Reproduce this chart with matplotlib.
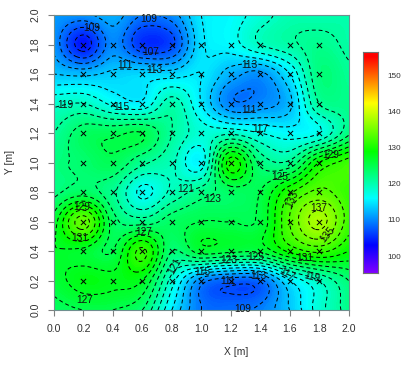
import numpy as np
import matplotlib
matplotlib.use('Agg')
import matplotlib.pyplot as plt
from matplotlib.colors import LinearSegmentedColormap

plt.rcParams['font.family'] = ['Liberation Sans', 'DejaVu Sans']

x_vals = [0.0, 0.2, 0.4, 0.6, 0.8, 1.0, 1.2, 1.4, 1.6, 1.8, 2.0]
y_vals = [0.0, 0.2, 0.4, 0.6, 0.8, 1.0, 1.2, 1.4, 1.6, 1.8, 2.0]

# rows go from y=0 up to y=2
z_rows = [
    [124, 125, 125, 123, 115, 109, 108.5, 109.5, 113, 118, 122],
    [126, 128, 127.5, 127, 118, 110, 108, 108.5, 115, 119, 123],
    [127, 126.5, 125, 131.5, 123, 126, 125.5, 125.5, 129.5, 131.5, 129],
    [126, 134, 124, 122, 124, 125, 125, 125.5, 133, 137.8, 132],
    [122.5, 124, 121.5, 116.5, 119.5, 122, 124, 125, 130.5, 133.5, 131.5],
    [122.5, 123.5, 124.5, 121.5, 119.5, 116, 130, 122.5, 121.5, 129, 132],
    [121, 124, 124.5, 125, 121, 118, 118.5, 117, 116, 117, 122.5],
    [118.5, 119, 116.5, 115.5, 120, 115, 109.5, 110, 112.5, 121, 122],
    [113, 112.5, 113.5, 114, 114, 115, 112, 110.5, 115, 122.5, 121.5],
    [110.5, 104, 110, 105.5, 106.5, 114.5, 116, 119, 120.5, 121.8, 120.5],
    [111, 110.5, 112, 109, 110, 115, 116, 118, 120, 120, 120.5],
]

point_x = [0.2, 0.4, 0.6, 0.8, 1.0, 1.2, 1.4, 1.6, 1.8]
point_y = [0.2, 0.4, 0.6, 0.8, 1.0, 1.2, 1.4, 1.6, 1.8]

contour_levels = list(range(99, 145, 2))

label_text = ['109', '109', '107', '111', '113', '113', '111', '115', '119', '117',
              '129', '125', '123', '121', '129', '131', '127', '133', '137', '135',
              '121', '115', '111', '113', '123', '125', '131', '117', '119', '127', '109']
label_x = [0.256, 0.645, 0.656, 0.48, 0.685, 1.324, 1.324, 0.46, 0.08, 1.40,
           1.88, 1.53, 1.08, 0.894, 0.19, 0.176, 0.606, 1.62, 1.80, 1.86,
           0.82, 1.01, 1.18, 1.39, 1.19, 1.37, 1.70, 1.58, 1.75, 0.21, 1.28]
label_y = [1.91, 1.975, 1.75, 1.66, 1.63, 1.66, 1.355, 1.378, 1.39, 1.23,
           1.05, 0.90, 0.755, 0.82, 0.70, 0.49, 0.53, 0.755, 0.69, 0.51,
           0.30, 0.257, 0.20, 0.23, 0.34, 0.36, 0.35, 0.24, 0.22, 0.07, 0.01]
label_rot = [0, 0, 0, 0, 0, 0, 0, 0, 0, 0,
             0, 0, 0, 0, 0, 0, 0, 65, 0, 50,
             60, 0, 0, 0, 0, 0, 0, -30, -15, 0, 0]

bar_ticks = [100, 110, 120, 130, 140, 150]
bar_min, bar_max = 95.4, 156.4

rainbow = LinearSegmentedColormap.from_list('rb', [
    (0.0, '#8000ff'), (0.125, '#0000ff'), (0.338, '#00ffff'),
    (0.55, '#00ff00'), (0.77, '#ffff00'), (0.98, '#ff0000'), (1.0, '#ff0000')])


def hermite_rows(z, n=24):
    """Smooth z along axis 0 between its rows."""
    m = np.gradient(z, axis=0)
    out = []
    for i in range(z.shape[0] - 1):
        for t in np.arange(n) / n:
            h00 = 2 * t**3 - 3 * t**2 + 1
            h10 = t**3 - 2 * t**2 + t
            h01 = -2 * t**3 + 3 * t**2
            h11 = t**3 - t**2
            out.append(h00 * z[i] + h10 * m[i] + h01 * z[i + 1] + h11 * m[i + 1])
    out.append(z[-1])
    return np.array(out)


fig = plt.figure(figsize=(4.09, 3.65), dpi=100)
W, H = 409.0, 365.0
ax = fig.add_axes([54 / W, 1 - 310 / H, 294.5 / W, 295 / H])

zz = np.array(z_rows, dtype=float)
fine_z = hermite_rows(hermite_rows(zz).T).T
fine_x = np.linspace(x_vals[0], x_vals[-1], fine_z.shape[1])
fine_y = np.linspace(y_vals[0], y_vals[-1], fine_z.shape[0])

ax.contourf(fine_x, fine_y, fine_z, levels=np.linspace(bar_min, bar_max, 200), cmap=rainbow,
            vmin=bar_min, vmax=bar_max, extend='both')
ax.contour(fine_x, fine_y, fine_z, levels=contour_levels, colors='black',
           linewidths=0.7, linestyles=[(0, (4, 3))])

px, py = np.meshgrid(point_x, point_y)
ax.scatter(px.ravel(), py.ravel(), marker='x', s=14, c='black', linewidths=0.7, zorder=3)

for t, lx, ly, r in zip(label_text, label_x, label_y, label_rot):
    ax.text(lx, ly, t, fontsize=7.3, ha='center', va='center', color='#111111',
            rotation=r, zorder=4)

ax.set_xlim(0, 2)
ax.set_ylim(0, 2)
ax.set_xticks(x_vals)
ax.set_yticks(y_vals)
ax.set_xticklabels([f'{v:.1f}' for v in x_vals])
ax.set_yticklabels([f'{v:.1f}' for v in y_vals], rotation=90, va='center')
ax.tick_params(labelsize=7.6, length=4.3, width=0.8, color='#808080', labelcolor='#333333', pad=5.5)
for s in ax.spines.values():
    s.set_color('#6f8f8f')
    s.set_linewidth(0.8)
ax.set_xlabel('X [m]', fontsize=7.4, color='#333333')
ax.set_ylabel('Y [m]', fontsize=7.4, color='#333333')
ax.xaxis.set_label_coords(0.62, -0.125)
ax.yaxis.set_label_coords(-0.132, 0.5)

cax = fig.add_axes([363 / W, 1 - 272.7 / H, 15 / W, 220.7 / H])
grad = np.linspace(bar_min, bar_max, 256).reshape(-1, 1)
cax.imshow(grad, origin='lower', aspect='auto', cmap=rainbow,
           extent=[0, 1, bar_min, bar_max], vmin=bar_min, vmax=bar_max)
cax.set_xticks([])
cax.yaxis.tick_right()
cax.set_yticks(bar_ticks)
cax.tick_params(labelsize=5.9, length=0, labelcolor='#333333', pad=6.5)
for s in cax.spines.values():
    s.set_color('#707070')
    s.set_linewidth(0.8)

fig.savefig('out.png', dpi=100)
